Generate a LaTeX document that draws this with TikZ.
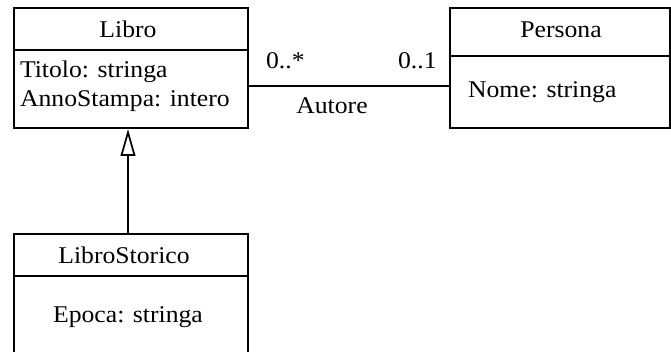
\documentclass[tikz,border=0pt]{standalone}
\usepackage{fontspec}
\setmainfont{Liberation Serif}[FakeStretch=1.07]
\usetikzlibrary{arrows.meta}
\begin{document}
\begin{tikzpicture}[x=0.75pt,y=-0.75pt, line width=1.6pt,
  box/.style={draw, line width=1.6pt, anchor=north west, inner sep=0pt},
  lbl/.style={font=\fontsize{18}{22}\selectfont, inner sep=0pt, anchor=base},
  lblw/.style={lbl, anchor=base west}]
\useasboundingbox (0,0) rectangle (671,351);
\fill[white] (0,0) rectangle (671,351);
% boxes
\node[box, minimum width=175.5pt, minimum height=90pt] (libro) at (13,7) {};
\node[box, minimum width=165pt, minimum height=90pt] (persona) at (449,7) {};
\node[box, minimum width=175.5pt, minimum height=96pt] (storico) at (13,233) {};
% separators
\coordinate (sepA) at (0,50);
\coordinate (sepB) at (0,56);
\coordinate (sepC) at (0,276);
\draw (libro.west |- sepA) -- (libro.east |- sepA);
\draw (persona.west |- sepB) -- (persona.east |- sepB);
\draw (storico.west |- sepC) -- (storico.east |- sepC);
% texts
\node[lbl] (tLibro) at (128,37) {Libro};
\node[lblw] (tTitolo) at (19,77) {Titolo: stringa};
\node[lblw] (tAnno) at (19,106) {AnnoStampa: intero};
\node[lbl] (tPersona) at (561,37) {Persona};
\node[lblw] (tNome) at (467,97) {Nome: stringa};
\node[lbl] (tStorico) at (124,263) {LibroStorico};
\node[lbl] (tEpoca) at (128,322) {Epoca: stringa};
\node[lblw] (mA) at (265,68) {0..*};
\node[lblw] (mB) at (397,68) {0..1};
\node[lbl] (tAutore) at (332,113) {Autore};
% association
\coordinate (assoc) at (0,86);
\draw (libro.east |- assoc) -- (persona.west |- assoc);
% generalization
\coordinate (gx) at (128,0);
\draw[-{Triangle[open, length=20pt, width=11pt, line width=1.3pt]}] (storico.north -| gx) -- (libro.south -| gx);
\end{tikzpicture}
\end{document}
